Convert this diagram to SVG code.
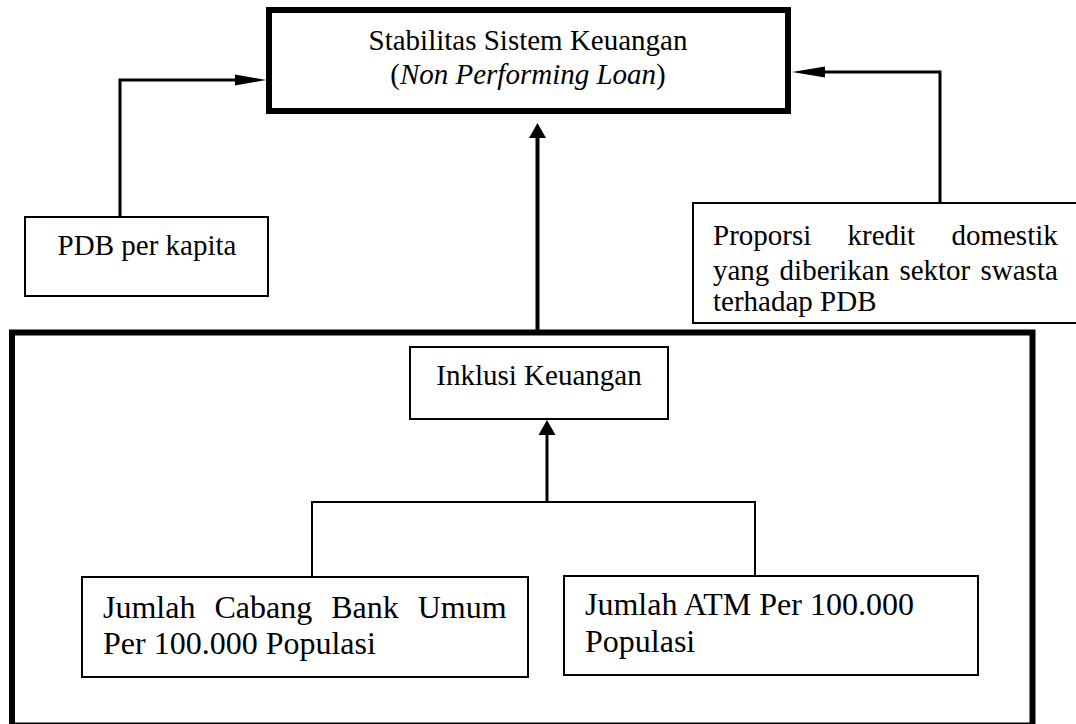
<svg xmlns="http://www.w3.org/2000/svg" width="1076" height="724" viewBox="0 0 1076 724">
<style>
text{font-family:"Liberation Serif","DejaVu Serif",serif;fill:#000}
.t29{font-size:29px}
.t32{font-size:32px}
.thick{fill:#fff;stroke:#000;stroke-width:6}
.thin{fill:#fff;stroke:#000;stroke-width:2}
.ln{fill:none;stroke:#000;stroke-linecap:butt}
</style>
<rect width="1076" height="724" fill="#fff"/>
<g font-family="'Liberation Serif', 'DejaVu Serif', serif">
<g id="outer-box">
<rect class="thick" x="12" y="332.5" width="1020.5" height="393"/>
</g>
<g id="top-node">
<rect class="thick" x="269" y="10" width="519" height="101"/>
<text class="t29" x="528" y="50" text-anchor="middle">Stabilitas Sistem Keuangan</text>
<text class="t29" x="528" y="84" text-anchor="middle">(<tspan font-style="italic">Non Performing Loan</tspan>)</text>
</g>
<g id="pdb-node">
<rect class="thin" x="25" y="217" width="243" height="79"/>
<text class="t29" x="147" y="255" text-anchor="middle">PDB per kapita</text>
</g>
<g id="kredit-node">
<rect class="thin" x="693" y="203" width="400" height="120"/>
<text class="t29" x="713" y="245" word-spacing="29">Proporsi kredit domestik</text>
<text class="t29" x="713" y="280" word-spacing="3">yang diberikan sektor swasta</text>
<text class="t29" x="713" y="311">terhadap PDB</text>
</g>
<g id="inklusi-node">
<rect class="thin" x="410" y="347" width="258" height="72"/>
<text class="t29" x="539" y="385" text-anchor="middle">Inklusi Keuangan</text>
</g>
<g id="cabang-node">
<rect class="thin" x="82" y="577" width="446" height="100"/>
<text class="t32" x="103" y="618" word-spacing="11">Jumlah Cabang Bank Umum</text>
<text class="t32" x="103" y="654">Per 100.000 Populasi</text>
</g>
<g id="atm-node">
<rect class="thin" x="564" y="576" width="414" height="99"/>
<text class="t32" x="585" y="615">Jumlah ATM Per 100.000</text>
<text class="t32" x="585" y="652">Populasi</text>
</g>
<g id="connectors">
<path class="ln" d="M120 217 V80 H240" stroke-width="3"/>
<polygon points="266,80 235,74.5 235,85.5" fill="#000"/>
<path class="ln" d="M940 203 V72 H820" stroke-width="3"/>
<polygon points="792,72 825,66.5 825,77.5" fill="#000"/>
<path class="ln" d="M537.5 330 V136" stroke-width="4"/>
<polygon points="537.5,123 529,138 546,138" fill="#000"/>
<path class="ln" d="M547 502 V433" stroke-width="3"/>
<polygon points="547,420 538.5,435 555.5,435" fill="#000"/>
<path class="ln" d="M312 577 V502 H755 V576" stroke-width="2"/>
</g>
</g>
</svg>
